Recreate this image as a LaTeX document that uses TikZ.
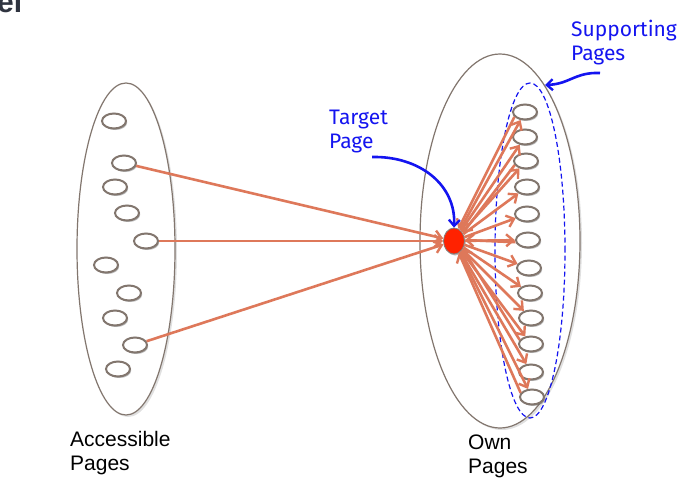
\documentclass[tikz,border=0pt]{standalone}
\usepackage{fontspec}
\setmainfont{Liberation Sans}
\newfontfamily\handfont{Fira Sans}
\usetikzlibrary{arrows.meta,shadows,shapes.geometric}
\definecolor{arrcol}{RGB}{222,120,90}
\definecolor{rimcol}{RGB}{130,118,110}
\definecolor{lblue}{RGB}{20,20,240}
\definecolor{titlecol}{RGB}{47,52,64}
\definecolor{redfill}{RGB}{255,34,0}
\tikzset{
  page/.style={ellipse, draw=rimcol, line width=2pt, fill=white, minimum width=24pt, minimum height=15pt, inner sep=0pt,
    drop shadow={shadow xshift=1.2pt, shadow yshift=-1.5pt, opacity=0.4, fill=black!70}},
  bigell/.style={ellipse, draw=rimcol, line width=1.2pt, fill=white, inner sep=0pt,
    drop shadow={shadow xshift=2pt, shadow yshift=-2pt, opacity=0.12, fill=black}},
  target/.style={ellipse, draw=gray, line width=0.8pt, fill=redfill, minimum width=21pt, minimum height=26pt, inner sep=0pt,
    drop shadow={shadow xshift=1.2pt, shadow yshift=-1.5pt, opacity=0.4, fill=black!70}},
  arr/.style={draw=arrcol, line width=2.6pt, -{Straight Barb[length=7pt,width=12pt,line width=2.4pt]}},
  bluelbl/.style={text=lblue, font=\handfont\fontsize{21}{24}\selectfont, align=left, inner sep=0pt},
  bluearr/.style={draw=lblue, line width=2.6pt, -{Straight Barb[length=6pt,width=11pt,line width=2.4pt]}},
  blacklbl/.style={text=black, font=\fontsize{21}{24}\selectfont, align=left, inner sep=0pt},
}
\begin{document}
\begin{tikzpicture}[x=1pt,y=-1pt]
\useasboundingbox (0,0) rectangle (697,493);
\fill[white] (0,0) rectangle (697,493);
% title fragment
\node[anchor=base west, inner sep=0pt, text=titlecol, font=\bfseries\fontsize{30}{32}\selectfont] (title) at (-3,12) {el};
% big ellipses
\node[bigell, minimum width=98pt, minimum height=332pt] (acc) at (126,249) {};
\node[bigell, minimum width=160pt, minimum height=374pt] (own) at (500,241) {};
% supporting dashed ellipse
\node[ellipse, draw=lblue, dashed, dash pattern=on 5pt off 3pt, line width=1.2pt, minimum width=70pt, minimum height=335pt, inner sep=0pt] (sup) at (530,250.5) {};
% left pages
\node[page] (l1) at (114,121) {};
\node[page] (l2) at (124,163) {};
\node[page] (l3) at (115,187) {};
\node[page] (l4) at (127,213) {};
\node[page] (l5) at (146,241) {};
\node[page] (l6) at (106,265) {};
\node[page] (l7) at (129,293) {};
\node[page] (l8) at (115,318) {};
\node[page] (l9) at (135,345) {};
\node[page] (l10) at (118,369) {};
% right pages
\node[page] (r1) at (525,112) {};
\node[page] (r2) at (525,137) {};
\node[page] (r3) at (526,161) {};
\node[page] (r4) at (527,187) {};
\node[page] (r5) at (527,214) {};
\node[page] (r6) at (528,240) {};
\node[page] (r7) at (529,268) {};
\node[page] (r8) at (530,293) {};
\node[page] (r9) at (531,318) {};
\node[page] (r10) at (531,344) {};
\node[page] (r11) at (531,372) {};
\node[page] (r12) at (532,397) {};
% target
\node[target] (red) at (454,241) {};
% arrows from accessible pages
\draw[arr] (l2) -- (red);
\draw[arr] (l5) -- (red);
\draw[arr] (l9) -- (red);
% forward arrows
\foreach \i in {1,...,12} { \draw[arr] (red) -- (r\i); }
% backward arrows
\draw[arr] (r1.205) -- (red.70);
\draw[arr] (r3.200) -- (red.42);
\draw[arr] (r6.190) -- (red.5);
\draw[arr] (r10.160) -- (red.-42);
\draw[arr] (r12.160) -- (red.-68);
% labels
\node[bluelbl, anchor=north west] (tlbl) at (329,110) {Target\\Page};
\node[bluelbl, anchor=north west] (slbl) at (571,20) {Supporting\\Pages};
\coordinate (tstart) at (372,157);
\coordinate (sstart) at (600,73);
\draw[bluearr] (tstart) .. controls (420,156) and (456,185) .. (red.north);
\draw[bluearr] (sstart) .. controls (575,72) and (570,84) .. (545,85);
\node[blacklbl, anchor=north west] (alb) at (70,431) {Accessible\\Pages};
\node[blacklbl, anchor=north west] (olb) at (468,435) {Own\\Pages};
\end{tikzpicture}
\end{document}
